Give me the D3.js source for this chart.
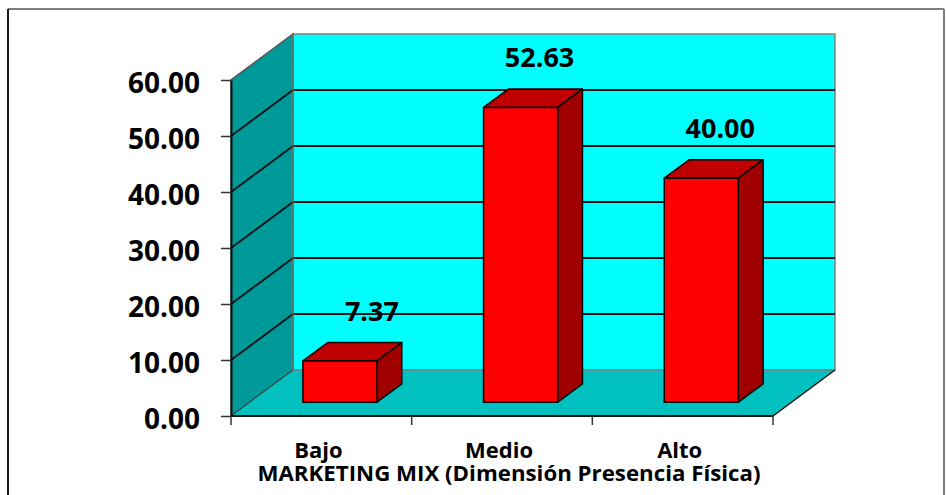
<!DOCTYPE html>
<html><head><meta charset="utf-8">
<script src="https://cdn.jsdelivr.net/npm/d3@7"></script>
<style>html,body{margin:0;padding:0;background:#fff;overflow:hidden}</style>
</head><body>
<svg id="c" width="946" height="495"></svg>
<script>
const categories = ["Bajo", "Medio", "Alto"];
const values = [7.37, 52.63, 40.00];
const valueLabels = ["7.37", "52.63", "40.00"];
const yTicks = [0, 10, 20, 30, 40, 50, 60];
const axisTitle = "MARKETING MIX (Dimensión Presencia Física)";

const svg = d3.select("#c");
const FONT = "'Open Sans', 'Noto Sans', sans-serif";
const dx = 62, dy = -46;         // depth offset
const f1 = 0.30, f2 = 0.70;      // bar front/back depth fractions

const y = d3.scaleLinear().domain([0, 60]).range([416, 80]);
const x = d3.scaleBand().domain(categories).range([231, 773]).padding(0);
const x0 = x.range()[0], x1 = x.range()[1];
const y0 = y(0), yTop = y(60);

// frame
svg.append("line").attr("x1", 8).attr("y1", 9).attr("x2", 944).attr("y2", 9).attr("stroke", "#7f7f7f").attr("stroke-width", 2);
svg.append("line").attr("x1", 8).attr("y1", 9).attr("x2", 8).attr("y2", 495).attr("stroke", "#1a1a1a").attr("stroke-width", 2);
svg.append("line").attr("x1", 944).attr("y1", 9).attr("x2", 944).attr("y2", 495).attr("stroke", "#7f7f7f").attr("stroke-width", 2);

const pts = a => a.map(p => p.join(",")).join(" ");
// back wall
svg.append("polygon").attr("points", pts([[x0+dx, yTop+dy],[x1+dx, yTop+dy],[x1+dx, y0+dy],[x0+dx, y0+dy]]))
  .attr("fill", "#00FFFF").attr("stroke", "#808080").attr("stroke-width", 1.5);
// left wall
svg.append("polygon").attr("points", pts([[x0, y0],[x0, yTop],[x0+dx, yTop+dy],[x0+dx, y0+dy]]))
  .attr("fill", "#009999").attr("stroke", "#555").attr("stroke-width", 1.5);
// floor
svg.append("polygon").attr("points", pts([[x0, y0],[x0+dx, y0+dy],[x1+dx, y0+dy],[x1, y0]]))
  .attr("fill", "#00C0C0").attr("stroke", "none");
svg.append("line").attr("x1", x0+dx).attr("y1", y0+dy).attr("x2", x1+dx).attr("y2", y0+dy).attr("stroke", "#808080").attr("stroke-width", 1.5);
svg.append("line").attr("x1", x1).attr("y1", y0).attr("x2", x1+dx).attr("y2", y0+dy).attr("stroke", "#111").attr("stroke-width", 1.5);
svg.append("line").attr("x1", x0).attr("y1", y0).attr("x2", x0+dx).attr("y2", y0+dy).attr("stroke", "#333").attr("stroke-width", 1);

// gridlines
const gv = yTicks.filter(v => v > 0 && v < 60);
const g = svg.append("g");
g.selectAll("path").data(gv).join("path")
  .attr("d", v => `M${x0},${y(v)}L${x0+dx},${y(v)+dy}L${x1+dx},${y(v)+dy}`)
  .attr("fill", "none").attr("stroke", "#0a1a1a").attr("stroke-width", 2);
svg.append("line").attr("x1", x0+dx).attr("y1", yTop+dy).attr("x2", x0+dx).attr("y2", y0+dy).attr("stroke", "#808080").attr("stroke-width", 1);

// y axis
const yAxis = d3.axisLeft(y).tickValues(yTicks).tickFormat(d3.format(".2f")).tickSizeInner(10).tickSizeOuter(0).tickPadding(21);
const ya = svg.append("g").attr("transform", `translate(${x0},0)`).call(yAxis);
ya.select(".domain").attr("stroke", "#111").attr("stroke-width", 2);
ya.selectAll(".tick line").attr("stroke", "#333").attr("stroke-width", 1.5);
ya.selectAll(".tick text").attr("font-family", FONT).attr("font-weight", "bold").attr("font-size", 28)
  .attr("fill", "#000").attr("dy", "0.38em").attr("y", 2);

// x axis
const edges = categories.map(c => x(c)).concat([x1]);
svg.append("line").attr("x1", x0).attr("y1", y0).attr("x2", x1).attr("y2", y0).attr("stroke", "#111").attr("stroke-width", 2);
svg.selectAll(".xt").data(edges).join("line").attr("class", "xt")
  .attr("x1", d => d).attr("x2", d => d).attr("y1", y0).attr("y2", y0 + 9)
  .attr("stroke", "#333").attr("stroke-width", 1.5);

// bars
const bw = x.bandwidth() * 0.41;
const bars = categories.map((c, i) => {
  const cx = x(c) + x.bandwidth() / 2;
  const fx = cx - bw / 2 + f1 * dx, fy = y0 + f1 * dy;
  const bdx = (f2 - f1) * dx, bdy = (f2 - f1) * dy;
  const h = y0 - y(values[i]);
  return { fx, fy, bdx, bdy, h, i };
});
const bg = svg.append("g");
bars.forEach(b => {
  const L = b.fx, R = b.fx + bw, B = b.fy, T = b.fy - b.h;
  bg.append("polygon").attr("points", pts([[L, T],[R, T],[R + b.bdx, T + b.bdy],[L + b.bdx, T + b.bdy]]))
    .attr("fill", "#C00000").attr("stroke", "#000").attr("stroke-width", 1.5).attr("stroke-linejoin", "round");
  bg.append("polygon").attr("points", pts([[R, T],[R + b.bdx, T + b.bdy],[R + b.bdx, B + b.bdy],[R, B]]))
    .attr("fill", "#A00000").attr("stroke", "#000").attr("stroke-width", 1.5).attr("stroke-linejoin", "round");
  bg.append("rect").attr("x", L).attr("y", T).attr("width", bw).attr("height", b.h)
    .attr("fill", "#FF0000").attr("stroke", "#000").attr("stroke-width", 1.5);
  const lx = L + bw / 2 + (b.h < 60 ? 32 : 19);
  bg.append("text").attr("x", lx).attr("y", T + b.bdy - 22)
    .attr("text-anchor", "middle").attr("font-family", FONT).attr("font-weight", "bold").attr("font-size", 27)
    .attr("fill", "#000").text(valueLabels[b.i]);
});

// category labels
svg.selectAll(".cl").data(categories).join("text").attr("class", "cl")
  .attr("x", c => x(c) + x.bandwidth() / 2 - 3).attr("y", 458)
  .attr("text-anchor", "middle").attr("font-family", FONT).attr("font-weight", "bold").attr("font-size", 22)
  .attr("fill", "#000").text(c => c);
svg.append("text").attr("x", 509).attr("y", 481).attr("text-anchor", "middle")
  .attr("font-family", FONT).attr("font-weight", "bold").attr("font-size", 22)
  .attr("textLength", 503).attr("lengthAdjust", "spacingAndGlyphs")
  .attr("fill", "#000").text(axisTitle);
</script>
</body></html>
